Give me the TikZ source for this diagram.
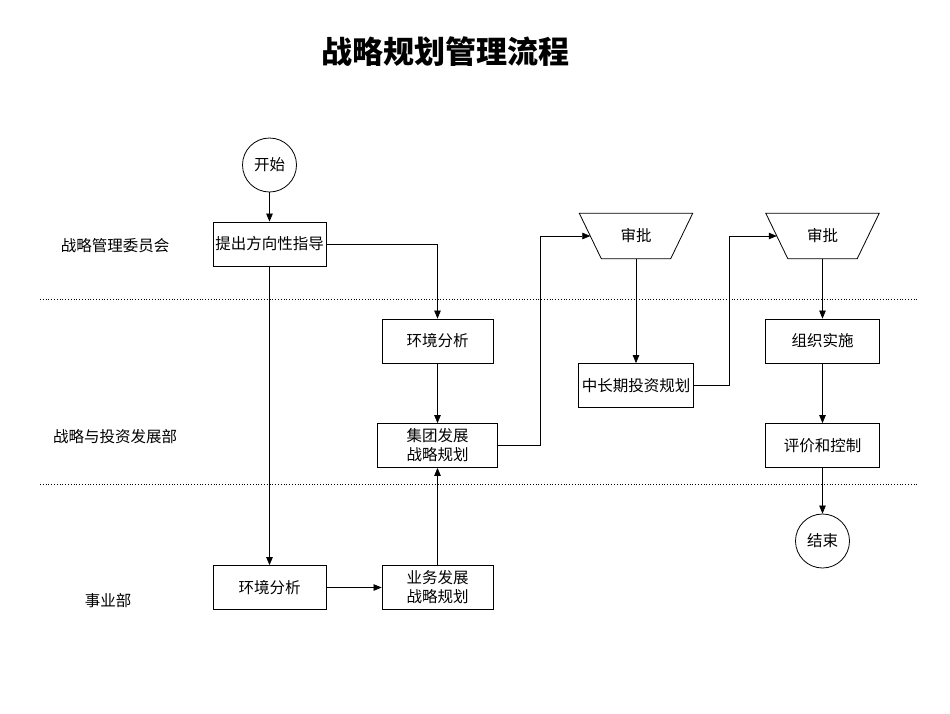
\documentclass[tikz,border=0pt]{standalone}
\usepackage{fontspec}
\setmainfont{Noto Sans CJK SC}
\usetikzlibrary{arrows.meta}
\begin{document}
\begin{tikzpicture}[x=1pt,y=-1pt,
  every node/.style={font=\fontsize{15.5}{19}\selectfont},
  box/.style={draw, line width=0.8pt, rectangle, minimum height=44pt, inner sep=0pt, align=center},
  rnd/.style={draw, line width=0.8pt, circle, minimum size=54pt, inner sep=0pt},
  apprarea/.style={rectangle, minimum width=113pt, minimum height=45pt, inner sep=0pt},
  outline/.style={line width=0.8pt},
  arr/.style={line width=0.7pt, -{Triangle[length=8pt,width=6.5pt]}},
  lane/.style={line width=0.8pt, dotted}]
\useasboundingbox (0,0) rectangle (950,713);

% title
\node[font=\fontsize{31}{36}\selectfont\bfseries] (title) at (445,52) {战略规划管理流程};

% lane labels
\node (l1) at (115,246) {战略管理委员会};
\node (l2) at (115,437) {战略与投资发展部};
\node (l3) at (108,601) {事业部};

% lane separators
\draw[lane] (40,299) -- (918,299);
\draw[lane] (40,484) -- (918,484);

% nodes
\node[rnd] (s) at (269.5,165) {开始};
\node[box, minimum width=113pt] (t1) at (269.5,244) {提出方向性指导};
\node[box, minimum width=111pt] (e1) at (437.5,341) {环境分析};
\node[box, minimum width=120pt] (g1) at (437.5,445.5) {集团发展\\战略规划};
\node[box, minimum width=113pt] (e2) at (269.5,587.5) {环境分析};
\node[box, minimum width=111pt] (b1) at (437.5,587.5) {业务发展\\战略规划};
\node[apprarea] (sp1) at (636,236) {审批};
\node[box, minimum width=115pt] (m1) at (636,385.5) {中长期投资规划};
\node[apprarea] (sp2) at (822.5,236) {审批};
\node[box, minimum width=114pt] (o1) at (822.5,341) {组织实施};
\node[box, minimum width=114pt] (p1) at (822.5,445.5) {评价和控制};
\node[rnd] (en) at (822.5,541) {结束};

% trapezoid outlines of the approval steps
\foreach \n in {sp1,sp2}{
  \draw[outline] (\n.north west) -- (\n.north east) -- ([xshift=-22pt]\n.south east)
    -- ([xshift=22pt]\n.south west) -- cycle;
  \coordinate (\n w) at ([xshift=11pt]\n.west);
}

% connectors
\draw[arr] (s) -- (t1);
\draw[arr] (t1.east) -| (e1.north);
\draw[arr] (t1.south) -- (e2.north);
\draw[arr] (e1) -- (g1);
\draw[arr] (g1.east) -- ++(42,0) |- (sp1w);
\draw[arr] (sp1.south) -- (m1.north);
\draw[arr] (m1.east) -- ++(35,0) |- (sp2w);
\draw[arr] (sp2.south) -- (o1.north);
\draw[arr] (o1) -- (p1);
\draw[arr] (p1) -- (en);
\draw[arr] (e2) -- (b1);
\draw[arr] (b1) -- (g1);
\end{tikzpicture}
\end{document}
